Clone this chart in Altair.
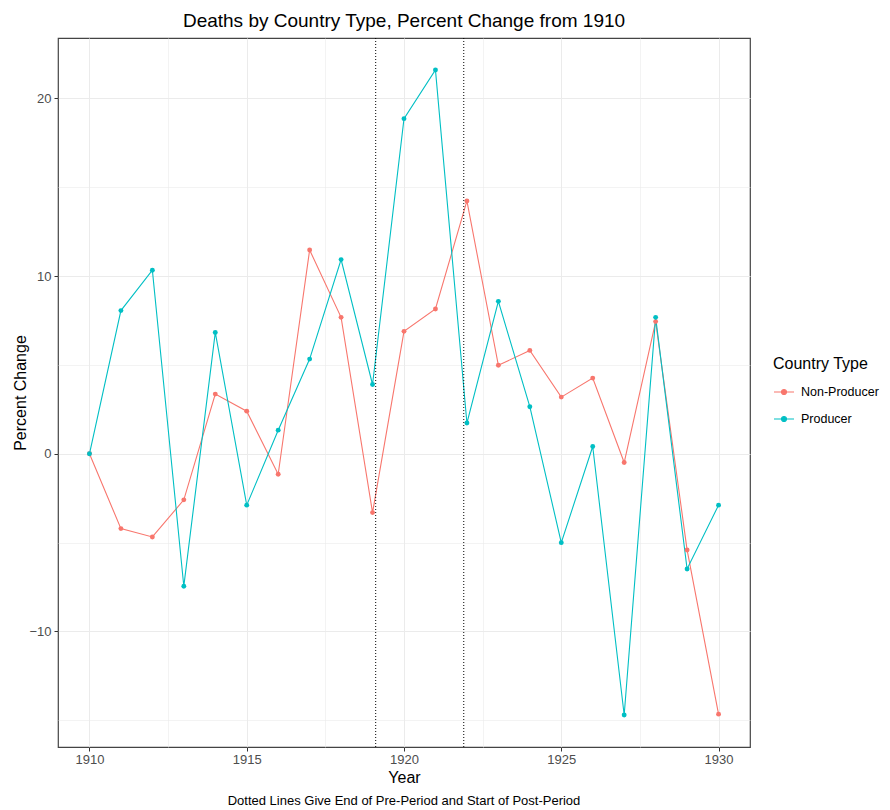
import altair as alt
import pandas as pd

years = list(range(1910, 1931))
producer = [0, 8.06, 10.33, -7.45, 6.83, -2.89, 1.33, 5.33, 10.93, 3.9,
            18.86, 21.6, 1.73, 8.58, 2.65, -5.0, 0.41, -14.7, 7.68, -6.48, -2.89]
non_producer = [0, -4.21, -4.68, -2.59, 3.36, 2.4, -1.15, 11.47, 7.68, -3.31,
                6.89, 8.15, 14.23, 4.98, 5.82, 3.19, 4.26, -0.49, 7.44, -5.41, -14.65]
series_names = ["Non-Producer", "Producer"]
series_colors = ["#F8766D", "#00BFC4"]
period_lines = [1919.1, 1921.9]
x_ticks = [1910, 1912.5, 1915, 1917.5, 1920, 1922.5, 1925, 1927.5, 1930]
y_ticks = [-15, -10, -5, 0, 5, 10, 15, 20]
caption_text = "Dotted Lines Give End of Pre-Period and Start of Post-Period"

df = pd.DataFrame({
    "Year": years * 2,
    "Change": non_producer + producer,
    "Country Type": ["Non-Producer"] * len(years) + ["Producer"] * len(years),
})
vdf = pd.DataFrame({"x": period_lines})
cdf = pd.DataFrame({"t": [caption_text]})

FONT = "Liberation Sans"
W, H = 692, 709

xscale = alt.Scale(domain=[1909, 1931], nice=False, zero=False)
yscale = alt.Scale(domain=[-16.5, 23.4], nice=False, zero=False)
cscale = alt.Scale(domain=series_names, range=series_colors)

major_x = "datum.value % 5 === 0"
major_y = "datum.value % 10 === 0"

xaxis = alt.Axis(values=x_ticks, title="Year", format="d",
                 labelExpr=f"{major_x} ? datum.label : ''",
                 tickColor=alt.condition(major_x, alt.value("#333333"), alt.value("transparent")),
                 gridWidth=alt.condition(major_x, alt.value(1), alt.value(0.6)),
                 gridColor="#EBEBEB", tickSize=4, labelPadding=2,
                 labelColor="#4D4D4D", labelFontSize=13, labelFont=FONT,
                 titleFont=FONT, titleFontSize=16, titleFontWeight="normal",
                 titleColor="black", titlePadding=3, domain=False)
yaxis = alt.Axis(values=y_ticks, title="Percent Change", format="d",
                 labelExpr=f"{major_y} ? datum.label : ''",
                 tickColor=alt.condition(major_y, alt.value("#333333"), alt.value("transparent")),
                 gridWidth=alt.condition(major_y, alt.value(1), alt.value(0.6)),
                 gridColor="#EBEBEB", tickSize=4, labelPadding=3,
                 labelColor="#4D4D4D", labelFontSize=13, labelFont=FONT,
                 titleFont=FONT, titleFontSize=16, titleFontWeight="normal",
                 titleColor="black", titlePadding=0, domain=False)

legend = alt.Legend(title="Country Type", orient="none", legendX=715, legendY=318,
                    titleFont=FONT, titleFontSize=16, titleFontWeight="normal",
                    titleColor="black", labelFont=FONT, labelFontSize=12.5,
                    labelColor="black", titlePadding=9, rowPadding=9,
                    symbolType="M-1,0H1M-0.25,0a0.25,0.25 0 1,0 0.5,0a0.25,0.25 0 1,0 -0.5,0",
                    symbolSize=400, symbolStrokeWidth=1.2, labelOffset=6)

base = alt.Chart(df)
lines = base.mark_line(strokeWidth=1.1).encode(
    x=alt.X("Year:Q", scale=xscale, axis=xaxis),
    y=alt.Y("Change:Q", scale=yscale, axis=yaxis),
    color=alt.Color("Country Type:N", scale=cscale, legend=legend),
    order="Year:Q",
)
points = base.mark_point(filled=True, size=24, opacity=1).encode(
    x="Year:Q", y="Change:Q",
    color=alt.Color("Country Type:N", scale=cscale, legend=legend),
)
rules = alt.Chart(vdf).mark_rule(color="black", strokeDash=[1, 2], strokeWidth=1).encode(
    x="x:Q"
)
caption = alt.Chart(cdf).mark_text(font=FONT, fontSize=13, color="black",
                                   align="center", baseline="middle").encode(
    text="t:N", x=alt.value(W / 2), y=alt.value(H + 54)
)

chart = alt.layer(lines, points, rules, caption).properties(
    width=W, height=H,
    background="white",
    title=alt.TitleParams("Deaths by Country Type, Percent Change from 1910",
                          font=FONT, fontSize=19, fontWeight="normal",
                          color="black", anchor="middle", offset=7),
    autosize=alt.AutoSizeParams(type="none"),
    padding={"left": 50, "top": 30, "right": 132, "bottom": 62},
).configure_view(stroke="#444444", strokeWidth=1.2)

chart.save("out.html", embed_options={"renderer": "svg", "actions": False})
